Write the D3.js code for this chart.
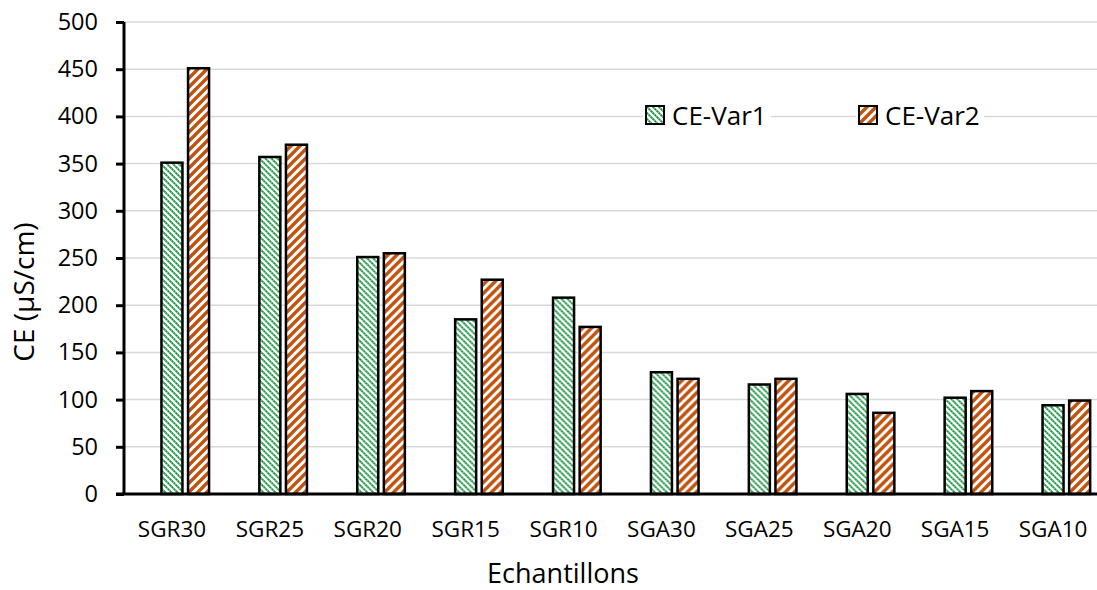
<!DOCTYPE html>
<html>
<head>
<meta charset="utf-8">
<script src="https://cdn.jsdelivr.net/npm/d3@7"></script>
<style>
  body { margin: 0; background: #fff; }
  text { font-family: "Open Sans", sans-serif; fill: #000; }
</style>
</head>
<body>
<div id="chart"></div>
<script>
var categories = ["SGR30", "SGR25", "SGR20", "SGR15", "SGR10", "SGA30", "SGA25", "SGA20", "SGA15", "SGA10"];
var seriesNames = ["CE-Var1", "CE-Var2"];
var var1 = [351, 357, 251, 185, 208, 129, 116, 106, 102, 94];
var var2 = [451, 370, 255, 227, 177, 122, 122, 86, 109, 99];
var yTicks = [0, 50, 100, 150, 200, 250, 300, 350, 400, 450, 500];

var width = 1097,
    height = 590;

var svg = d3.select("#chart").append("svg")
    .attr("width", width)
    .attr("height", height);

// hatch patterns
var defs = svg.append("defs");
var pg = defs.append("pattern")
    .attr("id", "hatch-green")
    .attr("patternUnits", "userSpaceOnUse")
    .attr("width", 6).attr("height", 6);
pg.append("rect").attr("width", 6).attr("height", 6).attr("fill", "#fff");
pg.append("path")
    .attr("d", "M-1,-1 L7,7 M-4,2 L2,8 M4,-2 L8,2")
    .attr("stroke", "#6cc084").attr("stroke-width", 1.8);
pg.append("path")
    .attr("d", "M-1,-1 L7,7 M-4,2 L2,8 M4,-2 L8,2")
    .attr("stroke", "#0e8a33").attr("stroke-width", 1.8)
    .attr("stroke-dasharray", "1.2,1.6");

var po = defs.append("pattern")
    .attr("id", "hatch-orange")
    .attr("patternUnits", "userSpaceOnUse")
    .attr("width", 9).attr("height", 9);
po.append("rect").attr("width", 9).attr("height", 9).attr("fill", "#fff");
po.append("path")
    .attr("d", "M-1,10 L10,-1 M-5,5 L5,-5 M4,14 L14,4")
    .attr("stroke", "#c0540f").attr("stroke-width", 3.4);

var fills = ["url(#hatch-green)", "url(#hatch-orange)"];

var x0 = d3.scaleBand()
    .domain(categories)
    .range([123, 1102]);

// first slot is an empty series, as in the source chart
var x1 = d3.scaleBand()
    .domain(["_"].concat(seriesNames))
    .range([0, x0.bandwidth()])
    .paddingInner(0.21)
    .paddingOuter(0.445);

var y = d3.scaleLinear()
    .domain([0, 500])
    .range([494, 22]);

// gridlines
svg.append("g")
    .selectAll("line")
    .data(yTicks.filter(function(d) { return d > 0; }))
    .enter().append("line")
    .attr("x1", 124).attr("x2", width)
    .attr("y1", function(d) { return y(d); })
    .attr("y2", function(d) { return y(d); })
    .attr("stroke", "#d9d9d9")
    .attr("stroke-width", 1.5);

// bars
var rows = categories.map(function(c, i) {
    return { cat: c, vals: [var1[i], var2[i]] };
});

var groups = svg.append("g")
    .selectAll("g")
    .data(rows)
    .enter().append("g")
    .attr("transform", function(d) { return "translate(" + x0(d.cat) + ",0)"; });

groups.selectAll("rect")
    .data(function(d) {
        return d.vals.map(function(v, j) { return { key: seriesNames[j], value: v, j: j }; });
    })
    .enter().append("rect")
    .attr("x", function(d) { return x1(d.key); })
    .attr("width", x1.bandwidth())
    .attr("y", function(d) { return y(d.value); })
    .attr("height", function(d) { return y(0) - y(d.value); })
    .attr("fill", function(d) { return fills[d.j]; })
    .attr("stroke", "#000")
    .attr("stroke-width", 2.5);

// y axis
var yAxis = svg.append("g")
    .attr("transform", "translate(124,0)")
    .call(d3.axisLeft(y).tickValues(yTicks).tickSize(8).tickPadding(10));
yAxis.select(".domain").attr("stroke", "#000").attr("stroke-width", 3)
    .attr("d", "M0," + y(500) + "V" + y(0));
yAxis.selectAll(".tick line").attr("stroke", "#000").attr("stroke-width", 3);
yAxis.selectAll(".tick text").style("font-size", "23.5px").attr("fill", "#000")
    .attr("x", -26);

// x axis
var xAxis = svg.append("g")
    .attr("transform", "translate(0,494)")
    .call(d3.axisBottom(x0).tickSize(0).tickPadding(27));
xAxis.select(".domain").attr("stroke", "#000").attr("stroke-width", 3)
    .attr("d", "M116,0H" + width);
xAxis.selectAll(".tick text").style("font-size", "22.5px").attr("fill", "#000");

// axis titles
svg.append("text")
    .attr("x", 563).attr("y", 583)
    .attr("text-anchor", "middle")
    .style("font-size", "27px")
    .text("Echantillons");

svg.append("text")
    .attr("transform", "translate(34,292) rotate(-90)")
    .attr("text-anchor", "middle")
    .style("font-size", "28px")
    .text("CE (µS/cm)");

// legend
var legendX = [646, 859];
var legend = svg.append("g")
    .selectAll("g")
    .data(seriesNames)
    .enter().append("g")
    .attr("transform", function(d, i) { return "translate(" + legendX[i] + ",106)"; });

legend.append("rect")
    .attr("x", -3).attr("y", -4).attr("width", 128).attr("height", 30)
    .attr("fill", "#fff");
legend.append("rect")
    .attr("width", 18).attr("height", 18)
    .attr("fill", function(d, i) { return fills[i]; })
    .attr("stroke", "#000").attr("stroke-width", 2);
legend.append("text")
    .attr("x", 26).attr("y", 19)
    .style("font-size", "26px")
    .text(function(d) { return d; });
</script>
</body>
</html>
